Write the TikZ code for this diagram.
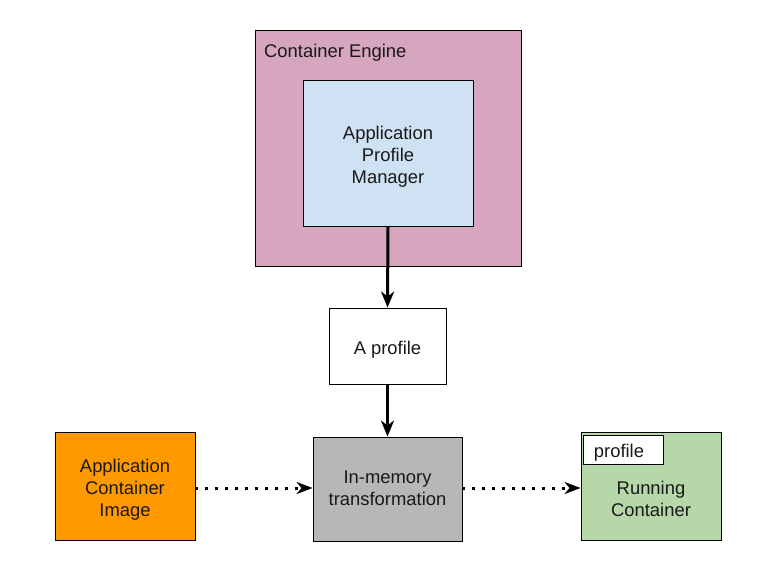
\documentclass[tikz,border=0pt]{standalone}
\usepackage{fontspec}
\setmainfont{Liberation Sans}
\usetikzlibrary{arrows.meta}
\definecolor{cpink}{HTML}{D5A6BD}
\definecolor{cblue}{HTML}{CFE2F3}
\definecolor{corange}{HTML}{FF9900}
\definecolor{cgray}{HTML}{B7B7B7}
\definecolor{cgreen}{HTML}{B6D7A8}
\tikzset{
  box/.style={draw=black, line width=0.9pt, inner sep=0pt},
  txt/.style={inner sep=0pt, align=center, text=black!90, font=\fontsize{18.4}{22}\selectfont},
  solidarrow/.style={line width=3pt, -{Stealth[length=16pt,width=13pt,inset=5pt]}},
  dotarrow/.style={line width=3pt, dash pattern=on 3pt off 7pt,
    -{Stealth[length=16pt,width=12pt,inset=5pt]}},
}
\begin{document}
\begin{tikzpicture}[x=1pt,y=-1pt]
\useasboundingbox (0,0) rectangle (784,584);
\fill[white] (0,0) rectangle (784,584);
% Container Engine
\node[box, fill=cpink, minimum width=266pt, minimum height=236pt] (engine) at (388,148) {};
\node[txt, anchor=base west] (enginelbl) at (264,57) {Container Engine};
% Application Profile Manager
\node[box, fill=cblue, minimum width=170pt, minimum height=146pt] (apm) at (388,153) {};
\node[txt] (apmlbl) at (388,156.5) {Application\\Profile\\Manager};
% A profile
\node[box, fill=white, minimum width=117pt, minimum height=76pt] (prof) at (387.5,346) {};
\node[txt] (proflbl) at (387.5,349.5) {A profile};
% In-memory transformation
\node[box, fill=cgray, minimum width=149pt, minimum height=104pt] (mem) at (387.5,489) {};
\node[txt] (memlbl) at (387.5,488.5) {In-memory\\transformation};
% Application Container Image
\node[box, fill=corange, minimum width=140pt, minimum height=108pt] (img) at (125,486) {};
\node[txt] (imglbl) at (125,490) {Application\\Container\\Image};
% Running Container
\node[box, fill=cgreen, minimum width=140pt, minimum height=108pt] (run) at (651,486) {};
\node[txt] (runlbl) at (651,499) {Running\\Container};
\node[box, fill=white, minimum width=80pt, minimum height=29pt, anchor=north west] (runprof) at (583,435) {};
\node[txt, anchor=base] (runproflbl) at (619,457) {profile};
% connectors
\draw[solidarrow] (apm.south) -- (prof.north);
\draw[solidarrow] (prof.south) -- (mem.north);
\draw[dotarrow] (img.east |- 0,488) -- (mem.west |- 0,488);
\draw[dotarrow] (mem.east |- 0,488) -- (run.west |- 0,488);
\end{tikzpicture}
\end{document}
